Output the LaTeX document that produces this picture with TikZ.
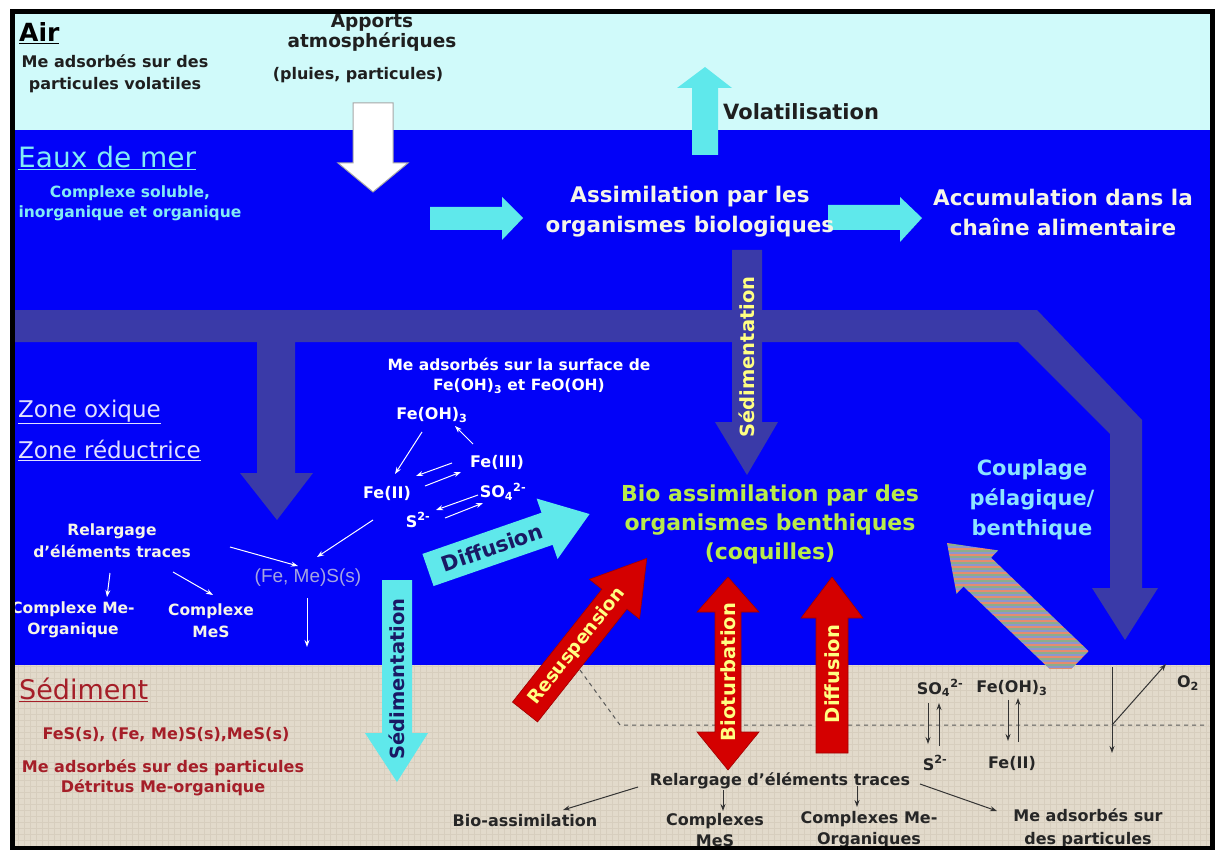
\documentclass[tikz,border=0pt]{standalone}
\usepackage{fontspec}
\setmainfont{DejaVu Sans}
\newfontfamily\arialf{Liberation Sans}
\usetikzlibrary{arrows.meta,calc}

\definecolor{aircol}{RGB}{208,250,250}
\definecolor{seacol}{RGB}{2,2,248}
\definecolor{sedcol}{RGB}{226,218,203}
\definecolor{sedgrid}{RGB}{215,206,190}
\definecolor{slate}{RGB}{58,58,168}
\definecolor{cyanarr}{RGB}{95,232,235}
\definecolor{redarr}{RGB}{212,0,0}
\definecolor{yel}{RGB}{255,255,130}
\definecolor{navy}{RGB}{25,25,100}
\definecolor{lcyan}{RGB}{130,235,245}
\definecolor{wtxt}{RGB}{245,245,232}
\definecolor{ztxt}{RGB}{225,225,255}
\definecolor{greentxt}{RGB}{185,235,75}
\definecolor{coupl}{RGB}{140,228,255}
\definecolor{sedred}{RGB}{165,30,40}
\definecolor{femscol}{RGB}{165,165,225}
\definecolor{stripeA}{RGB}{228,140,112}
\definecolor{stripeB}{RGB}{140,172,140}
\definecolor{stripeC}{RGB}{140,150,205}

\newcommand\fsz[2]{\fontsize{#1}{#2}\selectfont}

\begin{document}
\begin{tikzpicture}[x=1pt,y=-1pt,
  lbl/.style={inner sep=0pt, align=center},
  chem/.style={inner sep=0pt, font=\bfseries\fsz{16}{20}},
  warrow/.style={white, line width=1pt, -{Stealth[length=7pt,width=5pt]}},
  karrow/.style={black!80, line width=1pt, -{Stealth[length=7pt,width=5pt]}},
  slatearrow/.style={fill=slate, draw=none},
  cyanblock/.style={fill=cyanarr, draw=none},
  redblock/.style={fill=redarr, draw=redarr!75!black, line width=0.6pt},
  vtext/.style={inner sep=0pt, font=\bfseries\fsz{19.5}{22}}
]
\useasboundingbox (0,0) rectangle (1223,850);
\fill[white] (0,0) rectangle (1223,850);

% backgrounds
\fill[aircol] (12,12) rectangle (1212,130);
\fill[seacol] (12,130) rectangle (1212,665);
\fill[sedcol] (12,665) rectangle (1212,848);
\begin{scope}
  \clip (12,665) rectangle (1212,848);
  \draw[sedgrid, line width=0.4pt, step=6pt] (12,665) grid (1212,848);
\end{scope}

% big slate conveyor arrow
\fill[slatearrow] (12,310) -- (1037,310) -- (1142,420) -- (1142,588) -- (1158,588)
  -- (1125,640) -- (1092,588) -- (1110,588) -- (1110,434) -- (1018,342)
  -- (295,342) -- (295,473) -- (313,473) -- (277,520) -- (240,473) -- (257,473)
  -- (257,342) -- (12,342) -- cycle;

% slate sedimentation arrow
\fill[slatearrow] (732,250) -- (762,250) -- (762,422) -- (778,422) -- (747,475)
  -- (715,422) -- (732,422) -- cycle;
\node[vtext, rotate=90, yel] (sedim1) at (747,357) {Sédimentation};

% white atmospheric arrow
\draw[fill=white, draw=black!35, line width=1pt] (353,103) -- (393,103) -- (393,163)
  -- (408,163) -- (373,192) -- (338,163) -- (353,163) -- cycle;

% volatilisation arrow
\fill[cyanblock] (692,155) -- (718,155) -- (718,88) -- (732,88) -- (705,67)
  -- (677,88) -- (692,88) -- cycle;

% horizontal cyan arrows
\fill[cyanblock] (430,207) -- (502,207) -- (502,197) -- (523,218) -- (502,240)
  -- (502,230) -- (430,230) -- cycle;
\fill[cyanblock] (828,205) -- (900,205) -- (900,197) -- (922,218) -- (900,242)
  -- (900,230) -- (828,230) -- cycle;

% texts: air
\node[lbl, font=\bfseries\fsz{25}{28}, anchor=west] (air) at (19,33) {\underline{Air}};
\node[lbl, font=\bfseries\fsz{16}{22}, black!88] (airme) at (115,74) {Me adsorbés sur des\\particules volatiles};
\node[lbl, font=\bfseries\fsz{18.5}{20}, black!88] (apports) at (372,33) {Apports\\atmosphériques};
\node[lbl, font=\bfseries\fsz{16}{20}, black!88] (pluies) at (358,75) {(pluies, particules)};
\node[lbl, font=\bfseries\fsz{21}{25}, black!88, anchor=west] (volat) at (723,112) {Volatilisation};

% texts: sea
\node[lbl, font=\fsz{28}{32}, lcyan, anchor=west] (eaux) at (18,158) {\underline{Eaux de mer}};
\node[lbl, font=\bfseries\fsz{15.5}{20}, lcyan] (cs) at (130,203) {Complexe soluble,\\inorganique et organique};
\node[lbl, font=\bfseries\fsz{21.5}{30}, wtxt] (assim) at (690,212) {Assimilation par les\\organismes biologiques};
\node[lbl, font=\bfseries\fsz{21.5}{30}, wtxt] (accum) at (1063,212) {Accumulation dans la\\chaîne alimentaire};

\node[lbl, font=\fsz{23}{27}, ztxt, anchor=west] (zox) at (18,412) {\underline{Zone oxique}};
\node[lbl, font=\fsz{23}{27}, ztxt, anchor=west] (zred) at (18,450) {\underline{Zone réductrice}};

\node[lbl, font=\bfseries\fsz{15.5}{20}, white] (meads) at (519,376) {Me adsorbés sur la surface de\\Fe(OH)\textsubscript{3} et FeO(OH)};
\node[chem, white] (feoh3) at (432,415) {Fe(OH)\textsubscript{3}};
\node[chem, white] (feiii) at (497,462) {Fe(III)};
\node[chem, white] (feii) at (387,493) {Fe(II)};
\node[chem, white] (so4) at (503,492) {SO\textsubscript{4}\textsuperscript{2-}};
\node[chem, white] (s2) at (418,520) {S\textsuperscript{2-}};

\node[lbl, font=\bfseries\fsz{15.5}{22}, wtxt] (rel) at (112,541) {Relargage\\d'éléments traces};
\node[inner sep=0pt, font=\arialf\fsz{19}{22}, femscol] (fems) at (308,578) {(Fe, Me)S(s)};
\node[lbl, font=\bfseries\fsz{15.5}{21}, wtxt] (cmo) at (73,620) {Complexe Me-\\Organique};
\node[lbl, font=\bfseries\fsz{15.5}{22}, wtxt] (cms) at (211,621) {Complexe\\MeS};

\node[lbl, font=\bfseries\fsz{22}{29}, greentxt] (bio) at (770,524) {Bio assimilation par des\\organismes benthiques\\(coquilles)};
\node[lbl, font=\bfseries\fsz{21}{30}, coupl] (coup) at (1032,500) {Couplage\\pélagique/\\benthique};

% thin white arrows (water chemistry)
\coordinate (p1a) at (422,432); \coordinate (p1b) at (395,474);
\coordinate (p2a) at (473,444); \coordinate (p2b) at (455,426);
\coordinate (p3a) at (452,463); \coordinate (p3b) at (416,476);
\coordinate (p4a) at (425,486); \coordinate (p4b) at (461,472);
\coordinate (p5a) at (478,495); \coordinate (p5b) at (436,510);
\coordinate (p6a) at (445,518); \coordinate (p6b) at (483,503);
\coordinate (p7a) at (373,520); \coordinate (p7b) at (317,557);
\coordinate (p8a) at (230,547); \coordinate (p8b) at (298,566);
\coordinate (p9a) at (110,573); \coordinate (p9b) at (107,597);
\coordinate (p10a) at (173,572); \coordinate (p10b) at (213,595);
\coordinate (p11a) at (307,598); \coordinate (p11b) at (307,647);
\foreach \i in {1,...,11} { \draw[warrow] (p\i a) -- (p\i b); }

% cyan diffusion arrow
\begin{scope}[shift={(428,570)}, rotate=19.1]
  \fill[cyanblock] (0,-17) -- (126,-17) -- (126,-32) -- (171,0) -- (126,32) -- (126,17) -- (0,17) -- cycle;
  \node[inner sep=0pt, font=\bfseries\fsz{21}{24}, navy, rotate=19.1] (diffc) at (68,0) {Diffusion};
\end{scope}

% cyan sedimentation arrow
\fill[cyanblock] (382,580) -- (412,580) -- (412,733) -- (428,733) -- (397,782)
  -- (365,733) -- (382,733) -- cycle;
\node[vtext, rotate=90, navy] (sedim2) at (397,679) {Sédimentation};

% striped coupling arrow
\begin{scope}
  \clip (0,0) rectangle (1223,668);
  \path[path picture={
      \foreach \yy in {530,536,...,690} {
        \fill[stripeA] (900,\yy) rectangle (1120,\yy+2);
        \fill[stripeB] (900,\yy+2) rectangle (1120,\yy+4);
        \fill[stripeC] (900,\yy+4) rectangle (1120,\yy+6);
      }}]
    (947,543) -- (998.1,550.4) -- (991.1,557.7) -- (1088.6,651.1) -- (1061,679.9)
    -- (963.5,586.5) -- (956.5,593.8) -- cycle;
\end{scope}

% dashed redox boundary
\draw[black!65, line width=1pt, dash pattern=on 4pt off 4pt] (580,670) -- (620,725) -- (1208,725);

% red arrows
\begin{scope}[shift={(525,712)}, rotate=51.6]
  \draw[redblock] (0,-16) -- (144,-16) -- (144,-32) -- (196,0) -- (144,32) -- (144,16) -- (0,16) -- cycle;
  \node[inner sep=0pt, font=\bfseries\fsz{18.5}{22}, yel, rotate=51.6] (resusp) at (84,0) {Resuspension};
\end{scope}
\draw[redblock] (728,577) -- (759,612) -- (741,612) -- (741,732) -- (759,732) -- (728,770)
  -- (697,732) -- (715,732) -- (715,612) -- (697,612) -- cycle;
\node[vtext, rotate=90, yel] (biot) at (728,672) {Bioturbation};
\draw[redblock] (832,577) -- (863,618) -- (848,618) -- (848,753) -- (816,753) -- (816,618)
  -- (801,618) -- cycle;
\node[vtext, rotate=90, yel] (diffr) at (832,674) {Diffusion};

% sediment texts
\node[inner sep=0pt, font=\fsz{27}{30}, sedred, anchor=west] (sed) at (19,690) {\underline{Sédiment}};
\node[lbl, font=\bfseries\fsz{16}{20}, sedred] (fes) at (166,735) {FeS(s), (Fe, Me)S(s),MeS(s)};
\node[lbl, font=\bfseries\fsz{16}{20}, sedred] (sedme) at (163,778) {Me adsorbés sur des particules\\Détritus Me-organique};

\node[lbl, font=\bfseries\fsz{16}{22}, black!85] (relb) at (780,781) {Relargage d'éléments traces};
\node[lbl, font=\bfseries\fsz{16}{22}, black!85] (bioab) at (525,821) {Bio-assimilation};
\node[lbl, font=\bfseries\fsz{16}{21}, black!85] (cmsb) at (715,830) {Complexes\\MeS};
\node[lbl, font=\bfseries\fsz{16}{21}, black!85] (cmob) at (869,830) {Complexes Me-\\Organiques};
\node[lbl, font=\bfseries\fsz{16}{23}, black!85] (meb) at (1088,828) {Me adsorbés sur\\des particules};

\node[chem, black!85] (so4b) at (940,688) {SO\textsubscript{4}\textsuperscript{2-}};
\node[chem, black!85] (feoh3b) at (1012,688) {Fe(OH)\textsubscript{3}};
\node[chem, black!85] (s2b) at (935,763) {S\textsuperscript{2-}};
\node[chem, black!85] (feiib) at (1012,763) {Fe(II)};
\node[chem, black!85] (o2) at (1188,683) {O\textsubscript{2}};

% thin black arrows (sediment)
\coordinate (q1a) at (638,787); \coordinate (q1b) at (563,810);
\coordinate (q2a) at (723,790); \coordinate (q2b) at (723,811);
\coordinate (q3a) at (857,786); \coordinate (q3b) at (857,807);
\coordinate (q4a) at (920,784); \coordinate (q4b) at (997,811);
\coordinate (q5a) at (928,703); \coordinate (q5b) at (928,744);
\coordinate (q6a) at (939,746); \coordinate (q6b) at (939,703);
\coordinate (q7a) at (1008,700); \coordinate (q7b) at (1008,741);
\coordinate (q8a) at (1018,742); \coordinate (q8b) at (1018,698);
\coordinate (q9a) at (1112,667); \coordinate (q9b) at (1112,753);
\coordinate (q10a) at (1112,725); \coordinate (q10b) at (1166,664);
\foreach \i in {1,...,10} { \draw[karrow] (q\i a) -- (q\i b); }

% frame
\draw[black, line width=5pt] (12.5,12) rectangle (1212.5,848);
\end{tikzpicture}
\end{document}
